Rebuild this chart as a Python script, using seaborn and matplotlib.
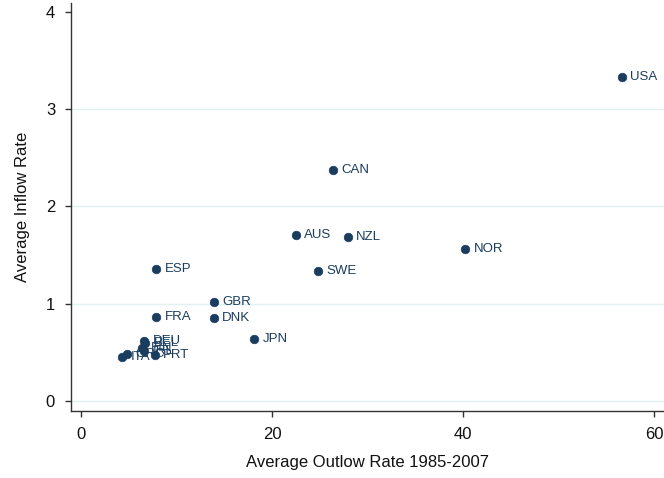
import pandas as pd
import matplotlib
matplotlib.use("Agg")
import matplotlib.pyplot as plt
import seaborn as sns

# Country averages
countries = ["USA", "CAN", "AUS", "NZL", "NOR", "SWE", "ESP", "GBR", "DNK", "FRA",
             "JPN", "DEU", "BEL", "FIN", "IRL", "GRC", "ITA", "PRT"]
outflow = [56.6, 26.4, 22.5, 27.9, 40.2, 24.8, 7.85, 13.9, 13.9, 7.85,
           18.1, 6.6, 6.7, 6.4, 6.6, 4.8, 4.3, 7.7]
inflow = [3.33, 2.37, 1.71, 1.69, 1.56, 1.34, 1.36, 1.02, 0.86, 0.87,
          0.64, 0.62, 0.60, 0.55, 0.52, 0.49, 0.45, 0.48]

x_ticks = [0, 20, 40, 60]
y_ticks = [0, 1, 2, 3, 4]

navy = "#1a3d5f"

df = pd.DataFrame({"country": countries, "outflow": outflow, "inflow": inflow})

sns.set_style("white")
plt.rcParams["font.family"] = ["Liberation Sans", "DejaVu Sans"]

fig = plt.figure(figsize=(6.64, 4.78), dpi=100)
ax = fig.add_axes([0.107, 0.140, 0.893, 0.854])

for yv in y_ticks[:-1]:
    ax.axhline(yv, color="#e3f0f2", lw=1.0, zorder=0)

sns.scatterplot(data=df, x="outflow", y="inflow", ax=ax, color=navy, s=38,
                edgecolor=navy, linewidth=0.5, zorder=3, legend=False)

for _, r in df.iterrows():
    ax.annotate(r["country"], (r["outflow"], r["inflow"]), xytext=(6, 0),
                textcoords="offset points", va="center", ha="left",
                fontsize=9.5, color=navy)

ax.set_xlim(-1.05, 61.0)
ax.set_ylim(-0.10, 4.09)
ax.set_xticks(x_ticks)
ax.set_yticks(y_ticks)
ax.tick_params(axis="both", direction="out", length=4.5, width=1, color="#333333",
               labelsize=12, labelcolor="#111111", pad=7)
ax.tick_params(axis="x", bottom=True)
ax.tick_params(axis="y", left=True)

for s in ["top", "right"]:
    ax.spines[s].set_visible(False)
for s in ["left", "bottom"]:
    ax.spines[s].set_color("#333333")
    ax.spines[s].set_linewidth(1.0)

ax.set_xlabel("Average Outlow Rate 1985-2007", fontsize=12, color="#111111", labelpad=9)
ax.set_ylabel("Average Inflow Rate", fontsize=12, color="#111111", labelpad=11)

fig.savefig("out.png", dpi=100)
